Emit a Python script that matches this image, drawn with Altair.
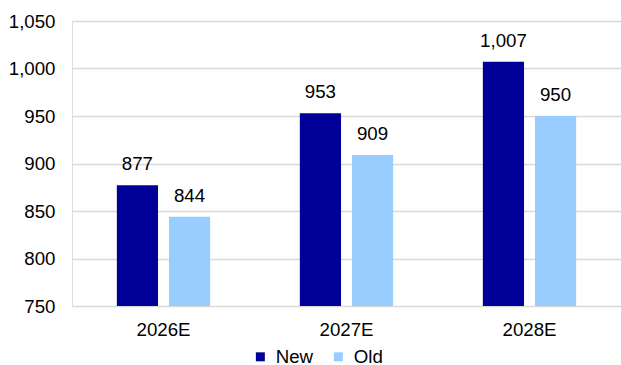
import altair as alt
import pandas as pd

years = ["2026E", "2027E", "2028E"]
new_vals = [877, 953, 1007]
old_vals = [844, 909, 950]
series = ["New", "Old"]
colors = ["#000099", "#99CCFF"]

rows = []
for y, n, o in zip(years, new_vals, old_vals):
    rows.append({"year": y, "series": "New", "value": n})
    rows.append({"year": y, "series": "Old", "value": o})
df = pd.DataFrame(rows)

FONT = "Liberation Sans"
FS = 18.7

x = alt.X("year:N", sort=years, title=None,
          scale=alt.Scale(paddingInner=0, paddingOuter=0),
          axis=alt.Axis(labelAngle=0, labelFontSize=FS, labelFont=FONT, labelColor="#000000",
                        ticks=False, domain=False, labelPadding=14))
xoff = alt.XOffset("series:N", sort=series,
                   scale=alt.Scale(paddingInner=0.21, paddingOuter=0.86))
y = alt.Y("value:Q", title=None,
          scale=alt.Scale(domain=[750, 1050], nice=False, zero=False),
          axis=alt.Axis(values=[750, 800, 850, 900, 950, 1000, 1050], format=",.0f",
                        labelFontSize=FS, labelFont=FONT, labelColor="#000000",
                        ticks=False, domain=False, labelPadding=17,
                        grid=True, gridColor="#D9D9D9", gridWidth=1.5))

bars = alt.Chart(df).mark_bar(clip=True).encode(
    x=x, xOffset=xoff, y=y,
    color=alt.Color("series:N", sort=series,
                    scale=alt.Scale(domain=series, range=colors),
                    legend=alt.Legend(title=None, orient="none", direction="horizontal",
                                      legendX=179, legendY=326,
                                      symbolType="square", symbolSize=81, symbolStrokeWidth=0,
                                      labelFontSize=FS, labelFont=FONT, labelColor="#000000",
                                      labelOffset=6, columnPadding=15)),
)

labels = alt.Chart(df).mark_text(fontSize=FS, font=FONT, color="#000000",
                                 baseline="alphabetic", dy=-15).encode(
    x=x, xOffset=xoff, y=y,
    text=alt.Text("value:Q", format=","),
)

chart = alt.layer(bars, labels).properties(
    width=549, height=285,
    autosize=alt.AutoSizeParams(type="none"),
    padding={"left": 72, "top": 21, "right": 0, "bottom": 59},
).configure_view(strokeWidth=0).configure(background="white")

chart.save("out.html", embed_options={"renderer": "svg", "actions": False})
